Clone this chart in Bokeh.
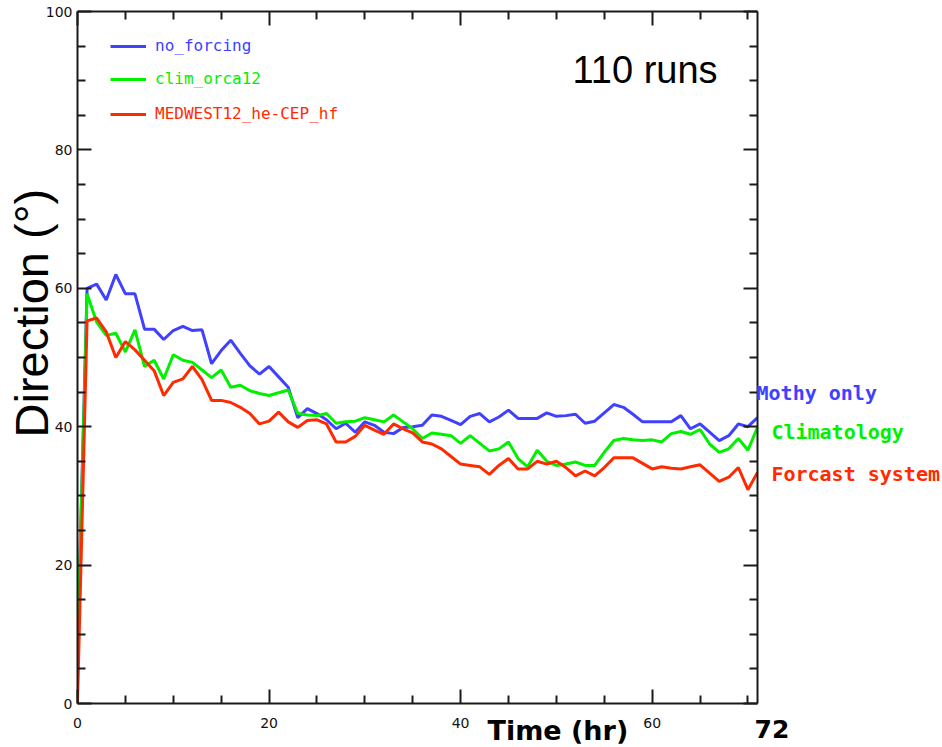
from bokeh.plotting import figure
from bokeh.models import Range1d, LinearAxis, FixedTicker, Label, Legend, LegendItem, Title
from bokeh.core.properties import value
from bokeh.embed import file_html
from bokeh.resources import INLINE

# ---------------- data ----------------
time_hr = list(range(72))

no_forcing = [8.0, 60.0, 60.6, 58.3, 62.0, 59.2, 59.2, 54.1, 54.1, 52.6,
              53.9, 54.5, 53.9, 54.0, 49.1, 51.0, 52.5, 50.6, 48.8, 47.6,
              48.7, 47.2, 45.7, 41.3, 42.6, 41.9, 41.0, 39.7, 40.5, 39.2,
              40.7, 40.2, 39.2, 39.0, 39.9, 40.0, 40.2, 41.7, 41.5, 40.9,
              40.3, 41.5, 41.9, 40.7, 41.4, 42.4, 41.2, 41.2, 41.2, 42.0,
              41.5, 41.6, 41.8, 40.5, 40.8, 42.0, 43.2, 42.8, 41.8, 40.7,
              40.7, 40.7, 40.7, 41.6, 39.7, 40.4, 39.2, 38.0, 38.7, 40.4,
              40.0, 41.3]

clim_orca12 = [8.0, 59.2, 55.1, 53.2, 53.5, 50.8, 54.0, 48.7, 49.6, 46.9,
               50.4, 49.6, 49.3, 48.2, 47.1, 48.2, 45.7, 46.0, 45.2, 44.8,
               44.5, 44.9, 45.3, 41.9, 41.7, 41.6, 41.9, 40.5, 40.7, 40.8,
               41.3, 41.0, 40.7, 41.7, 40.7, 39.7, 38.3, 39.1, 38.9, 38.7,
               37.6, 38.7, 37.6, 36.5, 36.8, 37.8, 35.4, 34.2, 36.6, 35.0,
               34.4, 34.6, 34.9, 34.4, 34.4, 36.3, 38.0, 38.3, 38.1, 38.0,
               38.1, 37.8, 39.0, 39.3, 38.9, 39.6, 37.5, 36.3, 36.8, 38.3,
               36.6, 39.9]

medwest12 = [0.0, 55.3, 55.7, 53.7, 50.0, 52.3, 51.1, 49.6, 48.1, 44.5,
             46.4, 46.9, 48.7, 46.8, 43.8, 43.8, 43.5, 42.8, 41.9, 40.4,
             40.8, 42.1, 40.7, 39.9, 40.9, 41.0, 40.4, 37.8, 37.8, 38.6,
             40.2, 39.5, 38.9, 40.4, 39.7, 39.1, 37.8, 37.5, 36.8, 35.7,
             34.6, 34.4, 34.2, 33.1, 34.4, 35.4, 33.9, 33.9, 35.0, 34.6,
             35.0, 34.1, 32.9, 33.6, 32.9, 34.1, 35.5, 35.5, 35.5, 34.7,
             33.9, 34.2, 34.0, 33.9, 34.2, 34.5, 33.3, 32.1, 32.7, 34.1,
             30.9, 33.4]

series_values = [no_forcing, clim_orca12, medwest12]
series_names = ["no_forcing", "clim_orca12", "MEDWEST12_he-CEP_hf"]
series_colors = ["#4040ff", "#00f000", "#ff2a00"]
side_labels = ["Mothy only", "Climatology", "Forcast system"]

x_major = [0, 20, 40, 60]
x_minor = [5, 10, 15, 25, 30, 35, 45, 50, 55, 65, 70]
y_major = [0, 20, 40, 60, 80, 100]
y_minor = [v for v in range(0, 101, 5) if v % 20]

# ---------------- figure ----------------
p = figure(width=942, height=747, output_backend="svg", toolbar_location=None,
           x_range=Range1d(0, 71), y_range=Range1d(0, 100),
           x_axis_location=None, y_axis_location=None,
           min_border_left=77, min_border_right=185,
           min_border_top=11, min_border_bottom=44)
p.grid.visible = False
p.outline_line_color = None
p.background_fill_color = "white"
p.border_fill_color = "white"

AX = "#1a1a1a"


def make_axis(ticks, minor, labels, standoff=5):
    ax = LinearAxis(ticker=FixedTicker(ticks=ticks, minor_ticks=minor))
    ax.axis_line_color = AX
    ax.axis_line_width = 2
    ax.major_tick_in = 14
    ax.major_tick_out = 0
    ax.minor_tick_in = 8
    ax.minor_tick_out = 0
    ax.major_tick_line_color = AX
    ax.major_tick_line_width = 2
    ax.minor_tick_line_color = AX
    ax.minor_tick_line_width = 2
    ax.major_label_text_font = "DejaVu Sans"
    ax.major_label_text_font_size = "14px"
    ax.major_label_text_color = "#111111"
    ax.major_label_standoff = standoff
    if not labels:
        ax.major_label_overrides = {t: "" for t in ticks}
        ax.major_label_standoff = 0
    return ax


p.add_layout(make_axis(x_major, x_minor, True, 14), "below")
p.add_layout(make_axis(x_major, x_minor, False), "above")
p.add_layout(make_axis(y_major, y_minor, True, 5), "left")
p.add_layout(make_axis(y_major, y_minor, False), "right")

# y-axis title (placed in the left side panel so it is not clipped)
p.add_layout(Title(text="Direction (°)", align="left", offset=266, standoff=-30,
                   text_font="Liberation Sans", text_font_style="normal",
                   text_font_size="47px", text_color="black"), "left")

# data lines
renderers = []
for vals, col in zip(series_values, series_colors):
    renderers.append(p.line(time_hr, vals, line_color=col, line_width=3))

# legends (top-left, one per series so each label keeps its colour)
legend_y = [648, 615, 580]
for name, col, ly, r in zip(series_names, series_colors, legend_y, renderers):
    lg = Legend(items=[LegendItem(label=name, renderers=[r])],
                location=(33, ly), orientation="vertical")
    lg.background_fill_alpha = 0
    lg.border_line_color = None
    lg.padding = 0
    lg.margin = 0
    lg.spacing = 0
    lg.glyph_width = 36
    lg.glyph_height = 16
    lg.label_height = 16
    lg.label_standoff = 9
    lg.label_text_font = "DejaVu Sans Mono"
    lg.label_text_font_size = "16px"
    lg.label_text_color = col
    p.add_layout(lg)

p.add_layout(Label(x=495, y=613, x_units="screen", y_units="screen",
                   text="110 runs", text_font="Liberation Sans",
                   text_baseline="bottom",
                   text_font_size="38px", text_color="black"))

# texts right of / below the frame, drawn at overlay level (not frame-clipped)
p.text(x=[70.9, 72.45, 72.45], y=[44.8, 39.2, 33.1], text=side_labels,
       text_color=series_colors, text_font=value("DejaVu Sans Mono"),
       text_font_style="bold", text_font_size=value("20px"),
       text_baseline="alphabetic", text_align="left", level="overlay")
p.text(x=[42.81], y=[-3.9], text=["Time (hr)"], text_color="black",
       text_font=value("DejaVu Sans"), text_font_style="bold",
       text_font_size=value("27px"), text_baseline="alphabetic",
       text_align="left", level="overlay")
p.text(x=[70.69], y=[-3.75], text=["72"], text_color="black",
       text_font=value("DejaVu Sans"), text_font_style="bold",
       text_font_size=value("25px"), text_baseline="alphabetic",
       text_align="left", level="overlay")

open("out.html", "w").write(file_html(p, INLINE))
